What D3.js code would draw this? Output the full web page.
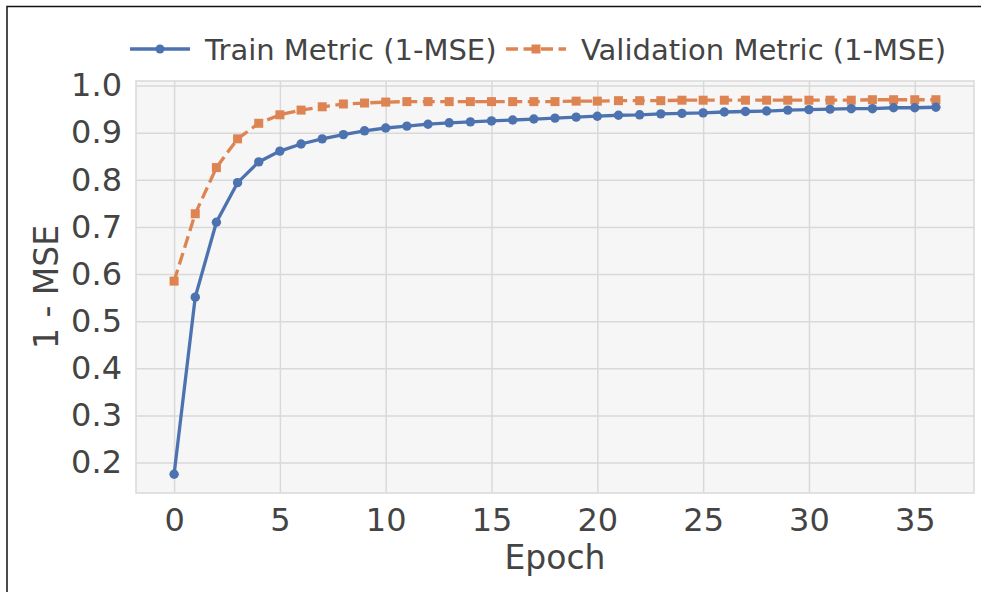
<!DOCTYPE html>
<html>
<head>
<meta charset="utf-8">
<script src="https://cdn.jsdelivr.net/npm/d3@7"></script>
<style>
  html, body { margin: 0; padding: 0; background: #ffffff; }
  svg { display: block; font-family: "DejaVu Sans", sans-serif; }
</style>
</head>
<body>
<svg id="chart" width="981" height="592"></svg>
<script>
// Training history: 1 - MSE per epoch
const epochs = d3.range(0, 37);
const trainMetric = [
  0.175, 0.551, 0.710, 0.794, 0.838, 0.861, 0.876, 0.887, 0.896, 0.904,
  0.910, 0.914, 0.918, 0.921, 0.923, 0.925, 0.927, 0.929, 0.931, 0.933,
  0.935, 0.937, 0.938, 0.940, 0.941, 0.942, 0.944, 0.945, 0.946, 0.948,
  0.949, 0.950, 0.951, 0.951, 0.953, 0.953, 0.954
];
const valMetric = [
  0.585, 0.728, 0.826, 0.887, 0.920, 0.938, 0.948, 0.955, 0.961, 0.963,
  0.965, 0.966, 0.966, 0.966, 0.966, 0.966, 0.966, 0.966, 0.966, 0.967,
  0.967, 0.968, 0.968, 0.968, 0.969, 0.969, 0.969, 0.969, 0.969, 0.969,
  0.969, 0.969, 0.969, 0.970, 0.970, 0.970, 0.970
];
const xTicks = [0, 5, 10, 15, 20, 25, 30, 35];
const yTicks = [0.2, 0.3, 0.4, 0.5, 0.6, 0.7, 0.8, 0.9, 1.0];
const seriesNames = ["Train Metric (1-MSE)", "Validation Metric (1-MSE)"];

const svg = d3.select("#chart");
const box = { left: 136, right: 974, top: 81, bottom: 493 };

// Outer frame (top and left edges)
svg.append("path")
  .attr("d", "M7,592 V6.5 H981")
  .attr("fill", "none").attr("stroke", "#111").attr("stroke-width", 1.5);

// Scales with 5% padding around the data extent
const xPad = 0.05 * (d3.max(epochs) - d3.min(epochs));
const x = d3.scaleLinear()
  .domain([d3.min(epochs) - xPad, d3.max(epochs) + xPad])
  .range([box.left, box.right]);
const allVals = trainMetric.concat(valMetric);
const yMin = d3.min(allVals), yMax = d3.max(allVals);
const yPad = 0.05 * (yMax - yMin);
const y = d3.scaleLinear()
  .domain([yMin - yPad, yMax + yPad])
  .range([box.bottom, box.top]);

// Plot background
svg.append("rect")
  .attr("x", box.left).attr("y", box.top)
  .attr("width", box.right - box.left).attr("height", box.bottom - box.top)
  .attr("fill", "#f6f6f6");

// Grid lines via axes
const gridColor = "#d9d9d9";
const gx = svg.append("g")
  .attr("transform", `translate(0,${box.bottom})`)
  .call(d3.axisBottom(x).tickValues(xTicks).tickSize(-(box.bottom - box.top)).tickFormat(""));
const gy = svg.append("g")
  .attr("transform", `translate(${box.left},0)`)
  .call(d3.axisLeft(y).tickValues(yTicks).tickSize(-(box.right - box.left)).tickFormat(""));
[gx, gy].forEach(g => {
  g.select(".domain").remove();
  g.selectAll(".tick line").attr("stroke", gridColor).attr("stroke-width", 1.5);
});

// Plot border
svg.append("rect")
  .attr("x", box.left).attr("y", box.top)
  .attr("width", box.right - box.left).attr("height", box.bottom - box.top)
  .attr("fill", "none").attr("stroke", gridColor).attr("stroke-width", 1.5);

// Tick labels
const textColor = "#444444";
const xLabels = svg.append("g")
  .attr("transform", `translate(0,${box.bottom})`)
  .call(d3.axisBottom(x).tickValues(xTicks).tickSize(0).tickPadding(15).tickFormat(d3.format("d")));
xLabels.select(".domain").remove();
xLabels.selectAll("text")
  .attr("font-size", 32).attr("fill", textColor)
  .attr("font-family", "DejaVu Sans");

const yLabels = svg.append("g")
  .attr("transform", `translate(${box.left},0)`)
  .call(d3.axisLeft(y).tickValues(yTicks).tickSize(0).tickPadding(14).tickFormat(d3.format(".1f")));
yLabels.select(".domain").remove();
yLabels.selectAll("text")
  .attr("font-size", 32).attr("fill", textColor)
  .attr("font-family", "DejaVu Sans");

// Axis titles
svg.append("text")
  .attr("x", (box.left + box.right) / 2).attr("y", 569)
  .attr("text-anchor", "middle").attr("font-size", 33).attr("fill", textColor)
  .text("Epoch");
svg.append("text")
  .attr("transform", `translate(58,${(box.top + box.bottom) / 2}) rotate(-90)`)
  .attr("text-anchor", "middle").attr("font-size", 33).attr("fill", textColor)
  .text("1 - MSE");

// Series
const blue = "#4c72b0", orange = "#dd8452";
const line = d3.line().x((d, i) => x(epochs[i])).y(d => y(d));

svg.append("path").datum(valMetric)
  .attr("d", line).attr("fill", "none")
  .attr("stroke", orange).attr("stroke-width", 3.3)
  .attr("stroke-dasharray", "12,5.5");
svg.append("g").selectAll("rect").data(valMetric).join("rect")
  .attr("x", (d, i) => x(epochs[i]) - 4.5).attr("y", d => y(d) - 4.5)
  .attr("width", 9).attr("height", 9).attr("fill", orange);

svg.append("path").datum(trainMetric)
  .attr("d", line).attr("fill", "none")
  .attr("stroke", blue).attr("stroke-width", 3.3);
svg.append("g").selectAll("circle").data(trainMetric).join("circle")
  .attr("cx", (d, i) => x(epochs[i])).attr("cy", d => y(d))
  .attr("r", 4.7).attr("fill", blue);

// Legend
const legendY = 49;
const lg = svg.append("g");
lg.append("line").attr("x1", 130).attr("x2", 190).attr("y1", legendY).attr("y2", legendY)
  .attr("stroke", blue).attr("stroke-width", 3.3);
lg.append("circle").attr("cx", 160).attr("cy", legendY).attr("r", 4.5).attr("fill", blue);
lg.append("text").attr("x", 205).attr("y", legendY + 10.5)
  .attr("font-size", 29).attr("fill", textColor).text(seriesNames[0]);

lg.append("line").attr("x1", 506).attr("x2", 566).attr("y1", legendY).attr("y2", legendY)
  .attr("stroke", orange).attr("stroke-width", 3.3).attr("stroke-dasharray", "12,5.5");
lg.append("rect").attr("x", 531.5).attr("y", legendY - 4.5).attr("width", 9).attr("height", 9).attr("fill", orange);
lg.append("text").attr("x", 581).attr("y", legendY + 10.5)
  .attr("font-size", 29).attr("fill", textColor).text(seriesNames[1]);
</script>
</body>
</html>
